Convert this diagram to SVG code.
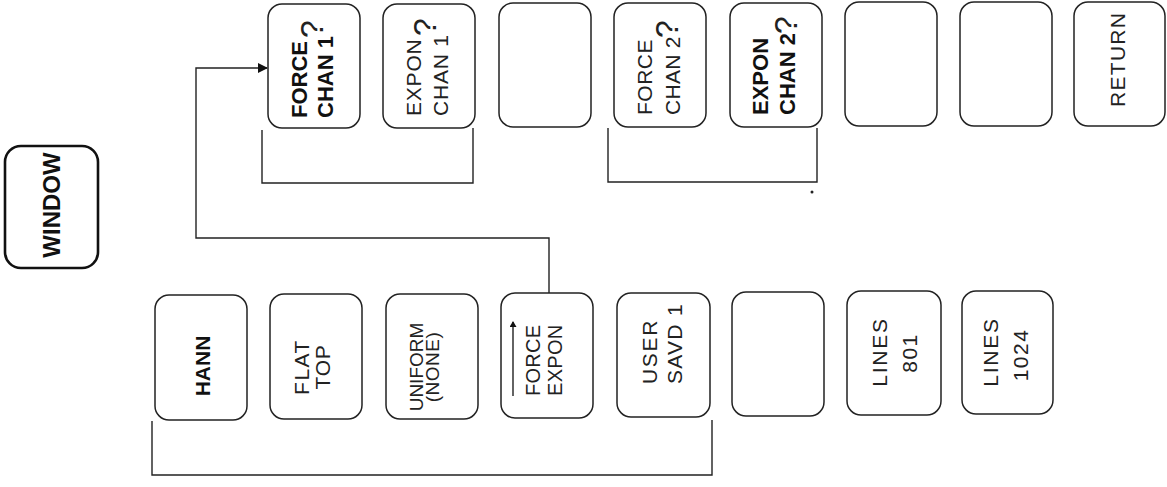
<svg xmlns="http://www.w3.org/2000/svg" width="1167" height="487" viewBox="0 0 1167 487">
<style>
.box{fill:#fff;stroke:#222;stroke-width:1.5}
.win{fill:#fff;stroke:#111;stroke-width:2.6}
.conn{fill:none;stroke:#222;stroke-width:1.4}
.b{font-family:"Liberation Sans",Arial,sans-serif;font-weight:bold;font-size:22px;fill:#111}
.r{font-family:"Liberation Sans",Arial,sans-serif;font-size:21px;fill:#222;letter-spacing:0.8px}
.q{font-family:"Liberation Sans",Arial,sans-serif;font-size:32px;fill:#222}
</style>
<defs>
<marker id="ah" markerWidth="10" markerHeight="10" refX="9" refY="5" orient="auto" markerUnits="userSpaceOnUse">
<path d="M0,0 L10,5 L0,10 Z" fill="#111"/>
</marker>
<marker id="ahs" markerWidth="6" markerHeight="7" refX="5" refY="3.5" orient="auto" markerUnits="userSpaceOnUse">
<path d="M0,0 L6,3.5 L0,7 Z" fill="#111"/>
</marker>
</defs>

<g id="connectors">
<path class="conn" d="M549,293 V238 H196 V68 H267" marker-end="url(#ah)"/>
<path class="conn" d="M262,130 V183 H473 V128"/>
<path class="conn" d="M608,128 V182 H817 V128"/>
<path class="conn" d="M152,421 V475 H712 V420"/>
<circle cx="812" cy="192" r="1.5" fill="#222"/>
</g>

<g id="node-window">
<rect class="win" x="5" y="146" width="93" height="122" rx="16"/>
<text class="b" style="font-size:24px" text-anchor="middle" transform="translate(60,205) rotate(-90)">WINDOW</text>
</g>

<g id="node-force-chan1">
<rect class="box" x="268" y="4" width="92" height="124" rx="14"/>
<text class="b" transform="translate(307,118) rotate(-90)">FORCE</text>
<text class="b" transform="translate(333,118) rotate(-90)">CHAN 1</text>
<text class="q" transform="translate(323,38) rotate(-90)">?</text>
</g>

<g id="node-expon-chan1">
<rect class="box" x="383" y="4" width="92" height="124" rx="14"/>
<text class="r" transform="translate(421,116) rotate(-90)">EXPON</text>
<text class="r" transform="translate(448,116) rotate(-90)">CHAN 1</text>
<text class="q" transform="translate(436,36) rotate(-90)">?</text>
</g>

<g id="node-top-empty1">
<rect class="box" x="499" y="3" width="92" height="124" rx="14"/>
</g>

<g id="node-force-chan2">
<rect class="box" x="614" y="3" width="92" height="124" rx="14"/>
<text class="r" style="letter-spacing:0.5px" transform="translate(652,115) rotate(-90)">FORCE</text>
<text class="r" style="letter-spacing:0.3px" transform="translate(680,115) rotate(-90)">CHAN 2</text>
<text class="q" transform="translate(678,38) rotate(-90)">?</text>
</g>

<g id="node-expon-chan2">
<rect class="box" x="730" y="3" width="92" height="124" rx="14"/>
<text class="b" transform="translate(768,115) rotate(-90)">EXPON</text>
<text class="b" transform="translate(795,115) rotate(-90)">CHAN 2</text>
<text class="q" transform="translate(797,34) rotate(-90)">?</text>
</g>

<g id="node-top-empty2">
<rect class="box" x="845" y="2" width="92" height="124" rx="14"/>
</g>

<g id="node-top-empty3">
<rect class="box" x="960" y="2" width="92" height="124" rx="14"/>
</g>

<g id="node-return">
<rect class="box" x="1074" y="2" width="91" height="124" rx="14"/>
<text class="r" style="letter-spacing:1.3px" transform="translate(1125,107) rotate(-90)">RETURN</text>
</g>

<g id="node-hann">
<rect class="box" x="155" y="295" width="92" height="125" rx="14"/>
<text class="b" style="font-size:21px" text-anchor="middle" transform="translate(210,366) rotate(-90)">HANN</text>
</g>

<g id="node-flat-top">
<rect class="box" x="270" y="294" width="92" height="125" rx="14"/>
<text class="r" style="letter-spacing:1.5px" text-anchor="middle" transform="translate(309,367) rotate(-90)">FLAT</text>
<text class="r" text-anchor="middle" transform="translate(330,367) rotate(-90)">TOP</text>
</g>

<g id="node-uniform">
<rect class="box" x="386" y="294" width="92" height="125" rx="14"/>
<text class="r" style="font-size:19px;letter-spacing:0" text-anchor="middle" transform="translate(423,367) rotate(-90)">UNIFORM</text>
<text class="r" style="font-size:19px;letter-spacing:0.5px" text-anchor="middle" transform="translate(439,367) rotate(-90)">(NONE)</text>
</g>

<g id="node-force-expon">
<rect class="box" x="501" y="293" width="92" height="125" rx="14"/>
<path class="conn" d="M513,396 V322" marker-end="url(#ahs)"/>
<text class="r" style="font-size:20px;letter-spacing:0.3px" transform="translate(540,396) rotate(-90)">FORCE</text>
<text class="r" style="font-size:20px;letter-spacing:0.3px" transform="translate(562,396) rotate(-90)">EXPON</text>
</g>

<g id="node-user-savd1">
<rect class="box" x="617" y="293" width="93" height="124" rx="14"/>
<text class="r" style="letter-spacing:1.7px" transform="translate(657,384) rotate(-90)">USER</text>
<text class="r" style="letter-spacing:1.3px" transform="translate(682,384) rotate(-90)">SAVD 1</text>
</g>

<g id="node-bottom-empty">
<rect class="box" x="732" y="292" width="92" height="124" rx="14"/>
</g>

<g id="node-lines801">
<rect class="box" x="847" y="291" width="94" height="124" rx="14"/>
<text class="r" style="letter-spacing:1.8px" text-anchor="middle" transform="translate(887,352) rotate(-90)">LINES</text>
<text class="r" style="letter-spacing:1.5px" text-anchor="middle" transform="translate(917,353) rotate(-90)">801</text>
</g>

<g id="node-lines1024">
<rect class="box" x="962" y="291" width="91" height="123" rx="14"/>
<text class="r" style="letter-spacing:1.8px" text-anchor="middle" transform="translate(998,352) rotate(-90)">LINES</text>
<text class="r" style="letter-spacing:1.5px" text-anchor="middle" transform="translate(1028,355) rotate(-90)">1024</text>
</g>
</svg>
